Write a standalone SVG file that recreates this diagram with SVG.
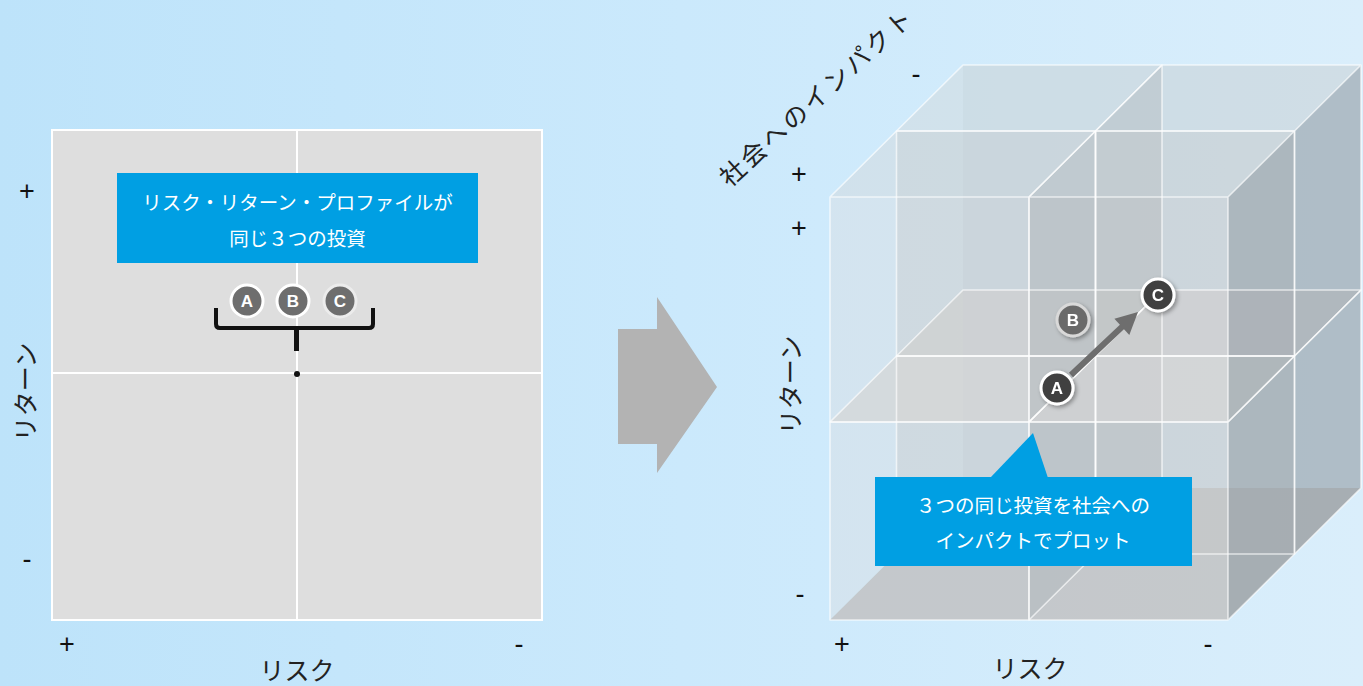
<svg xmlns="http://www.w3.org/2000/svg" width="1363" height="686" viewBox="0 0 1363 686">
  <defs>
    <linearGradient id="bg" x1="0" y1="0" x2="1" y2="0">
      <stop offset="0" stop-color="#bde3fa"/>
      <stop offset="0.5" stop-color="#cbe9fc"/>
      <stop offset="1" stop-color="#daeefb"/>
    </linearGradient>
    <filter id="shadow" x="-50%" y="-50%" width="200%" height="200%">
      <feDropShadow dx="2" dy="2" stdDeviation="2" flood-color="#000" flood-opacity="0.35"/>
    </filter>
    <style>
      .lbl { font-family: "Noto Sans CJK JP", "Liberation Sans", sans-serif; fill: #222; }
      .sign { font-family: "Liberation Sans", sans-serif; font-size: 27px; fill: #111; text-anchor: middle; }
      .axis { font-size: 25px; text-anchor: middle; }
      .note { font-family: "Noto Sans CJK JP", "Liberation Sans", sans-serif; font-size: 19.5px; fill: #fff; text-anchor: middle; }
      .callout { fill: #009fe3; }
      .fb { fill: #c8c8c8; fill-opacity: 0.2; }
      .lf { fill: #eef2f4; fill-opacity: 0.25; }
      .rt { fill: #808c95; fill-opacity: 0.45; }
      .roof { fill: #c8d2d8; fill-opacity: 0.4; }
      .mid { fill: #dadada; fill-opacity: 0.45; }
      .floor { fill: #c0c0c0; fill-opacity: 0.8; }
      .edge { fill: none; stroke: #fff; stroke-opacity: 0.65; stroke-width: 1.6; stroke-linejoin: round; }
      .dot { stroke-width: 3; }
      .dot text { font-family: "Liberation Sans", sans-serif; font-weight: bold; font-size: 17px; fill: #fff; text-anchor: middle; }
    </style>
    <!-- lower-row cell: origin at front-bottom-left corner, 199 x 198, depth offset (66.5,-66) -->
    <g id="boxLo">
      <polygon class="fb" points="66.5,-66 265.5,-66 265.5,-264 66.5,-264"/>
      <polygon class="lf" points="0,0 66.5,-66 66.5,-264 0,-198"/>
      <polygon class="floor" points="0,0 199,0 265.5,-66 66.5,-66"/>
      <polygon class="rt" points="199,0 265.5,-66 265.5,-264 199,-198"/>
      <polygon class="mid" points="0,-198 199,-198 265.5,-264 66.5,-264"/>
      <polygon class="fb" points="0,0 199,0 199,-198 0,-198"/>
    </g>
    <!-- upper-row cell: 199 x 225 -->
    <g id="boxHi">
      <polygon class="fb" points="66.5,-66 265.5,-66 265.5,-291 66.5,-291"/>
      <polygon class="lf" points="0,0 66.5,-66 66.5,-291 0,-225"/>
      <polygon class="mid" points="0,0 199,0 265.5,-66 66.5,-66"/>
      <polygon class="rt" points="199,0 265.5,-66 265.5,-291 199,-225"/>
      <polygon class="roof" points="0,-225 199,-225 265.5,-291 66.5,-291"/>
      <polygon class="fb" points="0,0 199,0 199,-225 0,-225"/>
    </g>
    <path id="edgeLo" class="edge" d="M0,0 H199 V-198 H0 Z M0,-198 L66.5,-264 H265.5 L199,-198 M199,0 L265.5,-66 V-264"/>
    <path id="edgeHi" class="edge" d="M0,0 H199 V-225 H0 Z M0,-225 L66.5,-291 H265.5 L199,-225 M199,0 L265.5,-66 V-291"/>
  </defs>

  <rect width="1363" height="686" fill="url(#bg)"/>

  <!-- left chart: risk / return plane -->
  <g id="chart2d">
    <rect x="52" y="130" width="490" height="490" fill="#dedede" stroke="#fff" stroke-width="2"/>
    <line x1="297" y1="130" x2="297" y2="620" stroke="#fff" stroke-width="2"/>
    <line x1="52" y1="373" x2="542" y2="373" stroke="#fff" stroke-width="2"/>
  </g>
  <g id="axes2d">
    <text class="sign" x="27" y="200">+</text>
    <text class="sign" x="27" y="568">-</text>
    <text class="sign" x="67" y="653">+</text>
    <text class="sign" x="519" y="653">-</text>
    <text class="lbl axis" transform="translate(35,392) rotate(-90)" x="0" y="0">リターン</text>
    <text class="lbl axis" x="297" y="680">リスク</text>
  </g>
  <g id="note-same-profile">
    <rect class="callout" x="117" y="173" width="361" height="90"/>
    <text class="note" x="297.5" y="210">リスク・リターン・プロファイルが</text>
    <text class="note" x="297.5" y="246">同じ３つの投資</text>
  </g>
  <g id="abc-2d">
    <g class="dot"><circle cx="247" cy="301" r="16" fill="#6e6e6e" stroke="#fff"/><text x="247" y="307">A</text></g>
    <g class="dot"><circle cx="293" cy="301" r="16" fill="#6e6e6e" stroke="#fff"/><text x="293" y="307">B</text></g>
    <g class="dot"><circle cx="340" cy="301" r="16" fill="#6e6e6e" stroke="#ececec"/><text x="340" y="307">C</text></g>
  </g>
  <g id="bracket">
    <path d="M216,308 V324 Q216,328 220,328 H369 Q373,328 373,324 V308" fill="none" stroke="#111" stroke-width="4" stroke-linejoin="round"/>
    <line x1="296.5" y1="328" x2="296.5" y2="351" stroke="#111" stroke-width="5"/>
    <circle cx="297" cy="374" r="3" fill="#111"/>
  </g>

  <!-- transition arrow -->
  <g id="step-arrow">
    <polygon points="618,329 657,329 657,297 717,387 657,473 657,444 618,444" fill="#b3b3b3"/>
  </g>

  <!-- right chart: 2 x 2 x 2 cube of translucent cells -->
  <g id="cube">
    <use href="#boxLo" transform="translate(896.5,554)"/>
    <use href="#boxLo" transform="translate(1095.5,554)"/>
    <use href="#boxHi" transform="translate(896.5,356)"/>
    <use href="#boxHi" transform="translate(1095.5,356)"/>
    <use href="#boxLo" transform="translate(830,620)"/>
    <use href="#boxLo" transform="translate(1029,620)"/>
    <use href="#boxHi" transform="translate(830,422)"/>
    <use href="#boxHi" transform="translate(1029,422)"/>
    <use href="#edgeLo" transform="translate(896.5,554)"/>
    <use href="#edgeLo" transform="translate(1095.5,554)"/>
    <use href="#edgeHi" transform="translate(896.5,356)"/>
    <use href="#edgeHi" transform="translate(1095.5,356)"/>
    <use href="#edgeLo" transform="translate(830,620)"/>
    <use href="#edgeLo" transform="translate(1029,620)"/>
    <use href="#edgeHi" transform="translate(830,422)"/>
    <use href="#edgeHi" transform="translate(1029,422)"/>
  </g>
  <g id="axes3d">
    <text class="sign" x="916" y="83">-</text>
    <text class="sign" x="799" y="183">+</text>
    <text class="sign" x="799" y="237">+</text>
    <text class="sign" x="800" y="603">-</text>
    <text class="sign" x="842" y="653">+</text>
    <text class="sign" x="1208" y="653">-</text>
    <text class="lbl axis" transform="translate(800,385) rotate(-90)" x="0" y="0">リターン</text>
    <text class="lbl axis" x="1030" y="678">リスク</text>
    <text class="lbl axis" transform="translate(817,97) rotate(-42)" x="0" y="9" letter-spacing="3">社会へのインパクト</text>
  </g>

  <!-- connector: A moves to C -->
  <g id="connectors">
    <line x1="1071" y1="375" x2="1123" y2="326" stroke="#6e6e6e" stroke-width="6"/>
    <polygon points="1138,312 1129.3,335 1114.4,318.8" fill="#6e6e6e"/>
  </g>

  <g id="abc-3d">
    <g id="node-b" class="dot" filter="url(#shadow)"><circle cx="1073" cy="320" r="16" fill="#6b6b6b" stroke="#d9d9d9"/><text x="1073" y="326">B</text></g>
    <g id="node-a" class="dot" filter="url(#shadow)"><circle cx="1057" cy="388" r="16" fill="#3f3f3f" stroke="#fff"/><text x="1057" y="394">A</text></g>
    <g id="node-c" class="dot" filter="url(#shadow)"><circle cx="1158" cy="295" r="16" fill="#3f3f3f" stroke="#fff"/><text x="1158" y="301">C</text></g>
  </g>

  <g id="note-impact">
    <polygon class="callout" points="990,478 1033,433 1048,478"/>
    <rect class="callout" x="875" y="477" width="317" height="89"/>
    <text class="note" x="1033" y="513">３つの同じ投資を社会への</text>
    <text class="note" x="1033" y="548">インパクトでプロット</text>
  </g>
</svg>
